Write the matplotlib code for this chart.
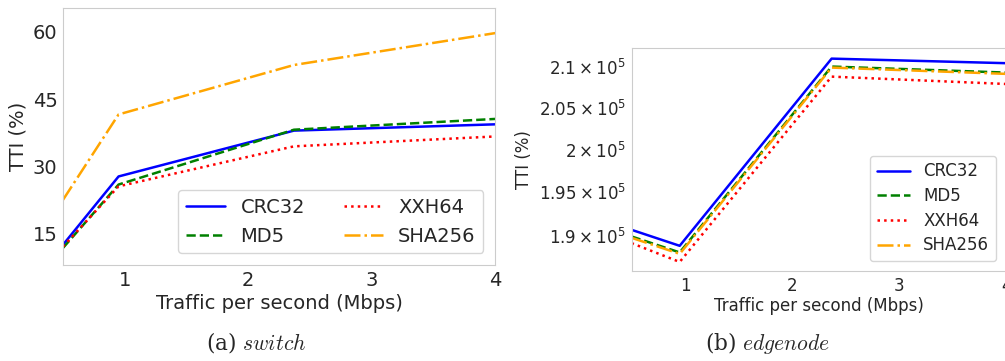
import numpy as np
import matplotlib
matplotlib.use('Agg')
import matplotlib.pyplot as plt
import seaborn as sns

# data
traffic = [0.5, 0.95, 2.37, 4.0]
labels = ['CRC32', 'MD5', 'XXH64', 'SHA256']
colors = ['blue', 'green', 'red', 'orange']
styles = ['-', '--', ':', '-.']

# (a) switch
switch_crc32 = [12.6, 27.8, 38.0, 39.4]
switch_md5 = [11.9, 26.0, 38.2, 40.6]
switch_xxh64 = [12.2, 25.6, 34.5, 36.7]
switch_sha256 = [22.6, 41.6, 52.6, 59.7]

# (b) edgenode
edge_crc32 = [1.907e5, 1.889e5, 2.1107e5, 2.105e5]
edge_md5 = [1.8995e5, 1.8816e5, 2.1008e5, 2.0933e5]
edge_xxh64 = [1.892e5, 1.871e5, 2.0883e5, 2.0792e5]
edge_sha256 = [1.898e5, 1.880e5, 2.0995e5, 2.0917e5]

sns.set_style('whitegrid')
plt.rcParams['font.family'] = ['DejaVu Sans']
plt.rcParams['mathtext.fontset'] = 'dejavusans'

fig = plt.figure(figsize=(10.05, 3.61), dpi=100)

# left panel
ax1 = fig.add_axes([0.0627, 0.266, 0.430, 0.712])
for ys, lab, c, ls in zip([switch_crc32, switch_md5, switch_xxh64, switch_sha256],
                          labels, colors, styles):
    ax1.plot(traffic, ys, color=c, linestyle=ls, linewidth=1.8, label=lab)
ax1.grid(False)
ax1.set_xlim(0.5, 4)
ax1.set_ylim(8.1, 65.3)
ax1.set_xticks([1, 2, 3, 4])
ax1.set_yticks([15, 30, 45, 60])
ax1.tick_params(labelsize=14, pad=4, length=0)
ax1.set_xlabel('Traffic per second (Mbps)', fontsize=14, labelpad=3)
ax1.set_ylabel('TTI (%)', fontsize=14, labelpad=4)
ax1.legend(loc='lower right', ncol=2, fontsize=14, columnspacing=2.0,
           handlelength=2.0, borderaxespad=0.6)

# right panel
ax2 = fig.add_axes([0.6284, 0.2493, 0.3726, 0.617])
for ys, lab, c, ls in zip([edge_crc32, edge_md5, edge_xxh64, edge_sha256],
                          labels, colors, styles):
    ax2.plot(traffic, ys, color=c, linestyle=ls, linewidth=1.8, label=lab)
ax2.set_yscale('log')
ax2.grid(False, which='both')
ax2.set_xlim(0.5, 4)
ax2.set_ylim(1.861e5, 2.1237e5)
ax2.set_xticks([1, 2, 3, 4])
ax2.tick_params(which='both', labelsize=12, pad=4, length=0)
ax2.set_xlabel('Traffic per second (Mbps)', fontsize=12, labelpad=2)
ax2.set_ylabel('TTI (%)', fontsize=12, labelpad=4)
ax2.legend(loc='lower right', fontsize=12, handlelength=2.0,
           labelspacing=0.4, borderaxespad=0.6)

# captions
fig.text(0.255, 0.05, r'(a) $\mathit{switch}$', ha='center', va='center',
         fontsize=15.5, family='serif', math_fontfamily='cm')
fig.text(0.764, 0.05, r'(b) $\mathit{edgenode}$', ha='center', va='center',
         fontsize=15.5, family='serif', math_fontfamily='cm')

fig.savefig('out.png', dpi=100)
